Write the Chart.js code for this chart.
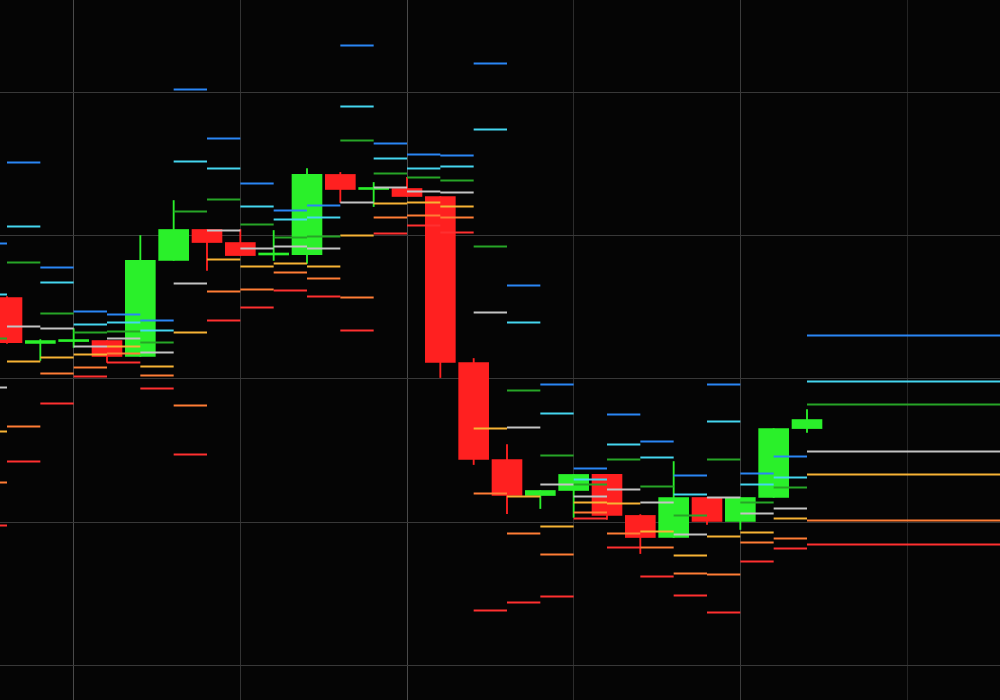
<!DOCTYPE html>
<html>
<head>
<meta charset="utf-8">
<script src="https://cdn.jsdelivr.net/npm/chart.js"></script>
<style>
  html, body { margin: 0; padding: 0; background-color: #050505; }
  #wrap { width: 1000px; height: 700px; }
</style>
</head>
<body>
  <div id="wrap">
    <canvas id="chart_candles"></canvas>
  </div>

  <script>
// candle periods (index on the time axis)
const periods = [0, 1, 2, 3, 4, 5, 6, 7, 8, 9, 10, 11, 12, 13, 14, 15, 16, 17, 18, 19, 20, 21, 22, 23, 24];

const opens  = [2256.7, 2224.7, 2226.0, 2226.7, 2215.6, 2282.6, 2304.2, 2295.1, 2286.4, 2286.7, 2342.6, 2332.1, 2332.8,
                2327.2, 2211.4, 2143.7, 2118.6, 2122.1, 2133.3, 2104.7, 2089.3, 2117.2, 2100.5, 2117.2, 2165.3];
const highs  = [2257.4, 2227.4, 2235.1, 2226.7, 2300.0, 2324.4, 2304.2, 2304.2, 2303.5, 2346.7, 2344.0, 2337.0, 2340.5,
                2327.2, 2214.2, 2154.2, 2122.1, 2133.3, 2133.3, 2105.3, 2142.3, 2117.2, 2117.2, 2165.3, 2178.6];
const lows   = [2224.7, 2212.8, 2221.9, 2211.4, 2215.6, 2282.6, 2275.6, 2286.0, 2282.6, 2280.5, 2323.0, 2320.2, 2327.2,
                2200.9, 2140.2, 2106.0, 2109.5, 2103.3, 2101.9, 2078.1, 2089.3, 2098.4, 2094.9, 2117.2, 2162.6];
const closes = [2225.3, 2226.7, 2227.1, 2215.6, 2282.6, 2304.2, 2295.1, 2286.0, 2287.4, 2342.6, 2332.1, 2333.1, 2327.2,
                2211.4, 2143.7, 2118.6, 2122.1, 2133.3, 2104.7, 2089.3, 2117.2, 2100.5, 2117.2, 2165.3, 2171.6];

// pivot levels, one set per period (first set starts one period before the first candle)
const pivotPeriods = [-1, 0, 1, 2, 3, 4, 5, 6, 7, 8, 9, 10, 11, 12, 13, 14, 15, 16, 17, 18, 19, 20, 21, 22, 23, 24];

const r3 = [2294.4, 2350.9, 2277.7, 2247.0, 2244.9, 2240.7, 2401.9, 2367.7, 2336.3, 2317.4, 2320.9, 2432.6, 2364.2,
            2356.5, 2355.8, 2420.0, 2265.1, 2196.0, 2137.4, 2175.1, 2156.3, 2132.6, 2196.0, 2134.0, 2145.8, 2230.2];
const r2 = [2258.8, 2306.3, 2267.2, 2237.9, 2239.3, 2233.7, 2351.6, 2346.7, 2320.2, 2311.2, 2312.6, 2390.0, 2353.7,
            2346.7, 2348.1, 2374.0, 2239.3, 2175.8, 2129.8, 2154.2, 2145.1, 2119.3, 2170.2, 2126.3, 2131.2, 2198.1];
const r1 = [2228.1, 2281.2, 2245.6, 2232.3, 2233.0, 2225.3, 2316.7, 2325.1, 2307.7, 2298.6, 2299.3, 2366.3, 2343.3,
            2340.5, 2338.4, 2292.3, 2191.9, 2146.5, 2126.3, 2143.7, 2124.9, 2104.7, 2143.7, 2113.7, 2124.2, 2182.1];
const pp = [2194.0, 2236.5, 2235.1, 2222.6, 2228.1, 2218.4, 2266.5, 2303.5, 2290.9, 2292.3, 2290.9, 2323.0, 2333.5,
            2330.7, 2330.0, 2246.3, 2166.0, 2126.3, 2117.9, 2122.8, 2113.7, 2091.4, 2117.2, 2106.0, 2109.5, 2149.3];
const s1 = [2163.3, 2212.1, 2214.9, 2217.0, 2222.6, 2208.6, 2232.3, 2283.3, 2278.4, 2280.5, 2278.4, 2300.0, 2322.3,
            2323.0, 2320.2, 2165.3, 2117.9, 2097.0, 2113.7, 2113.0, 2093.5, 2076.7, 2090.0, 2092.8, 2102.6, 2133.3];
const s2 = [2127.7, 2166.7, 2203.7, 2207.9, 2217.7, 2202.3, 2181.4, 2260.9, 2262.3, 2274.2, 2270.0, 2256.7, 2312.6,
            2314.0, 2312.6, 2120.0, 2092.1, 2077.4, 2106.7, 2092.1, 2082.3, 2064.2, 2063.5, 2085.8, 2088.6, 2101.2];
const s3 = [2097.7, 2142.3, 2182.8, 2201.6, 2211.4, 2193.3, 2147.2, 2240.7, 2249.8, 2261.6, 2257.4, 2233.7, 2301.4,
            2307.0, 2302.1, 2038.4, 2044.0, 2048.1, 2102.6, 2082.3, 2062.1, 2048.8, 2037.0, 2072.6, 2081.6, 2084.4];

// grid positions
const priceTicks = [2000, 2100, 2200, 2300, 2400];
const timeTicks  = [2, 7, 12, 17, 22, 27];

const UP   = '#2af02a';
const DOWN = '#ff2020';
const vGridColors = ['#4a4a4a', '#333333', '#4a4a4a', '#2c2c2c', '#3c3c3c', '#242424'];

function candleColor(ctx) {
  const i = ctx.dataIndex;
  return closes[i] >= opens[i] ? UP : DOWN;
}

function levelData(vals) {
  const pts = [];
  for (let k = 0; k < vals.length; k++) {
    const x0 = pivotPeriods[k];
    const x1 = (k + 1 < pivotPeriods.length) ? pivotPeriods[k + 1] : 31; // last set runs off the right edge
    pts.push({x: x0, y: vals[k]}, {x: x1, y: vals[k]}, {x: x1, y: null});
  }
  return pts;
}

function levelSet(label, vals, color) {
  return {
    type: 'line',
    label: label,
    data: levelData(vals),
    borderColor: color,
    borderWidth: 2,
    pointRadius: 0,
    tension: 0,
    spanGaps: false,
    order: 0
  };
}

const bodies = periods.map((p, i) => ({x: p, y: [opens[i], closes[i]]}));
const wicks  = periods.map((p, i) => ({x: p, y: [lows[i], highs[i]]}));

const config = {
  type: 'bar',
  data: {
    datasets: [
      levelSet('R3', r3, '#2a86f5'),
      levelSet('R2', r2, '#45d6f0'),
      levelSet('R1', r1, '#27a527'),
      levelSet('P',  pp, '#c4c4c4'),
      levelSet('S1', s1, '#f7b335'),
      levelSet('S2', s2, '#ff7d35'),
      levelSet('S3', s3, '#ff3030'),
      {
        label: 'body',
        data: bodies,
        backgroundColor: candleColor,
        borderWidth: 0,
        barThickness: 30,
        minBarLength: 2,
        grouped: false,
        order: 1
      },
      {
        label: 'wick',
        data: wicks,
        backgroundColor: candleColor,
        borderWidth: 0,
        barThickness: 1.2,
        grouped: false,
        order: 2
      }
    ]
  },
  options: {
    responsive: true,
    maintainAspectRatio: false,
    animation: false,
    layout: { padding: 0 },
    plugins: {
      legend: { display: false },
      tooltip: { enabled: false }
    },
    scales: {
      x: {
        type: 'linear',
        min: -0.21,
        max: 29.79,
        offset: false,
        ticks: { display: false },
        border: { display: false },
        grid: {
          offset: false,
          drawTicks: false,
          lineWidth: 1,
          color: (ctx) => vGridColors[ctx.index] || '#2a2a2a'
        },
        afterBuildTicks: (scale) => { scale.ticks = timeTicks.map(v => ({value: v})); }
      },
      y: {
        type: 'linear',
        min: 1975.93,
        max: 2464.30,
        ticks: { display: false },
        border: { display: false },
        grid: {
          drawTicks: false,
          lineWidth: 1,
          color: '#383838'
        },
        afterBuildTicks: (scale) => { scale.ticks = priceTicks.map(v => ({value: v})); }
      }
    }
  }
};

const chartCandles = new Chart(document.getElementById('chart_candles'), config);
  </script>
</body>
</html>
